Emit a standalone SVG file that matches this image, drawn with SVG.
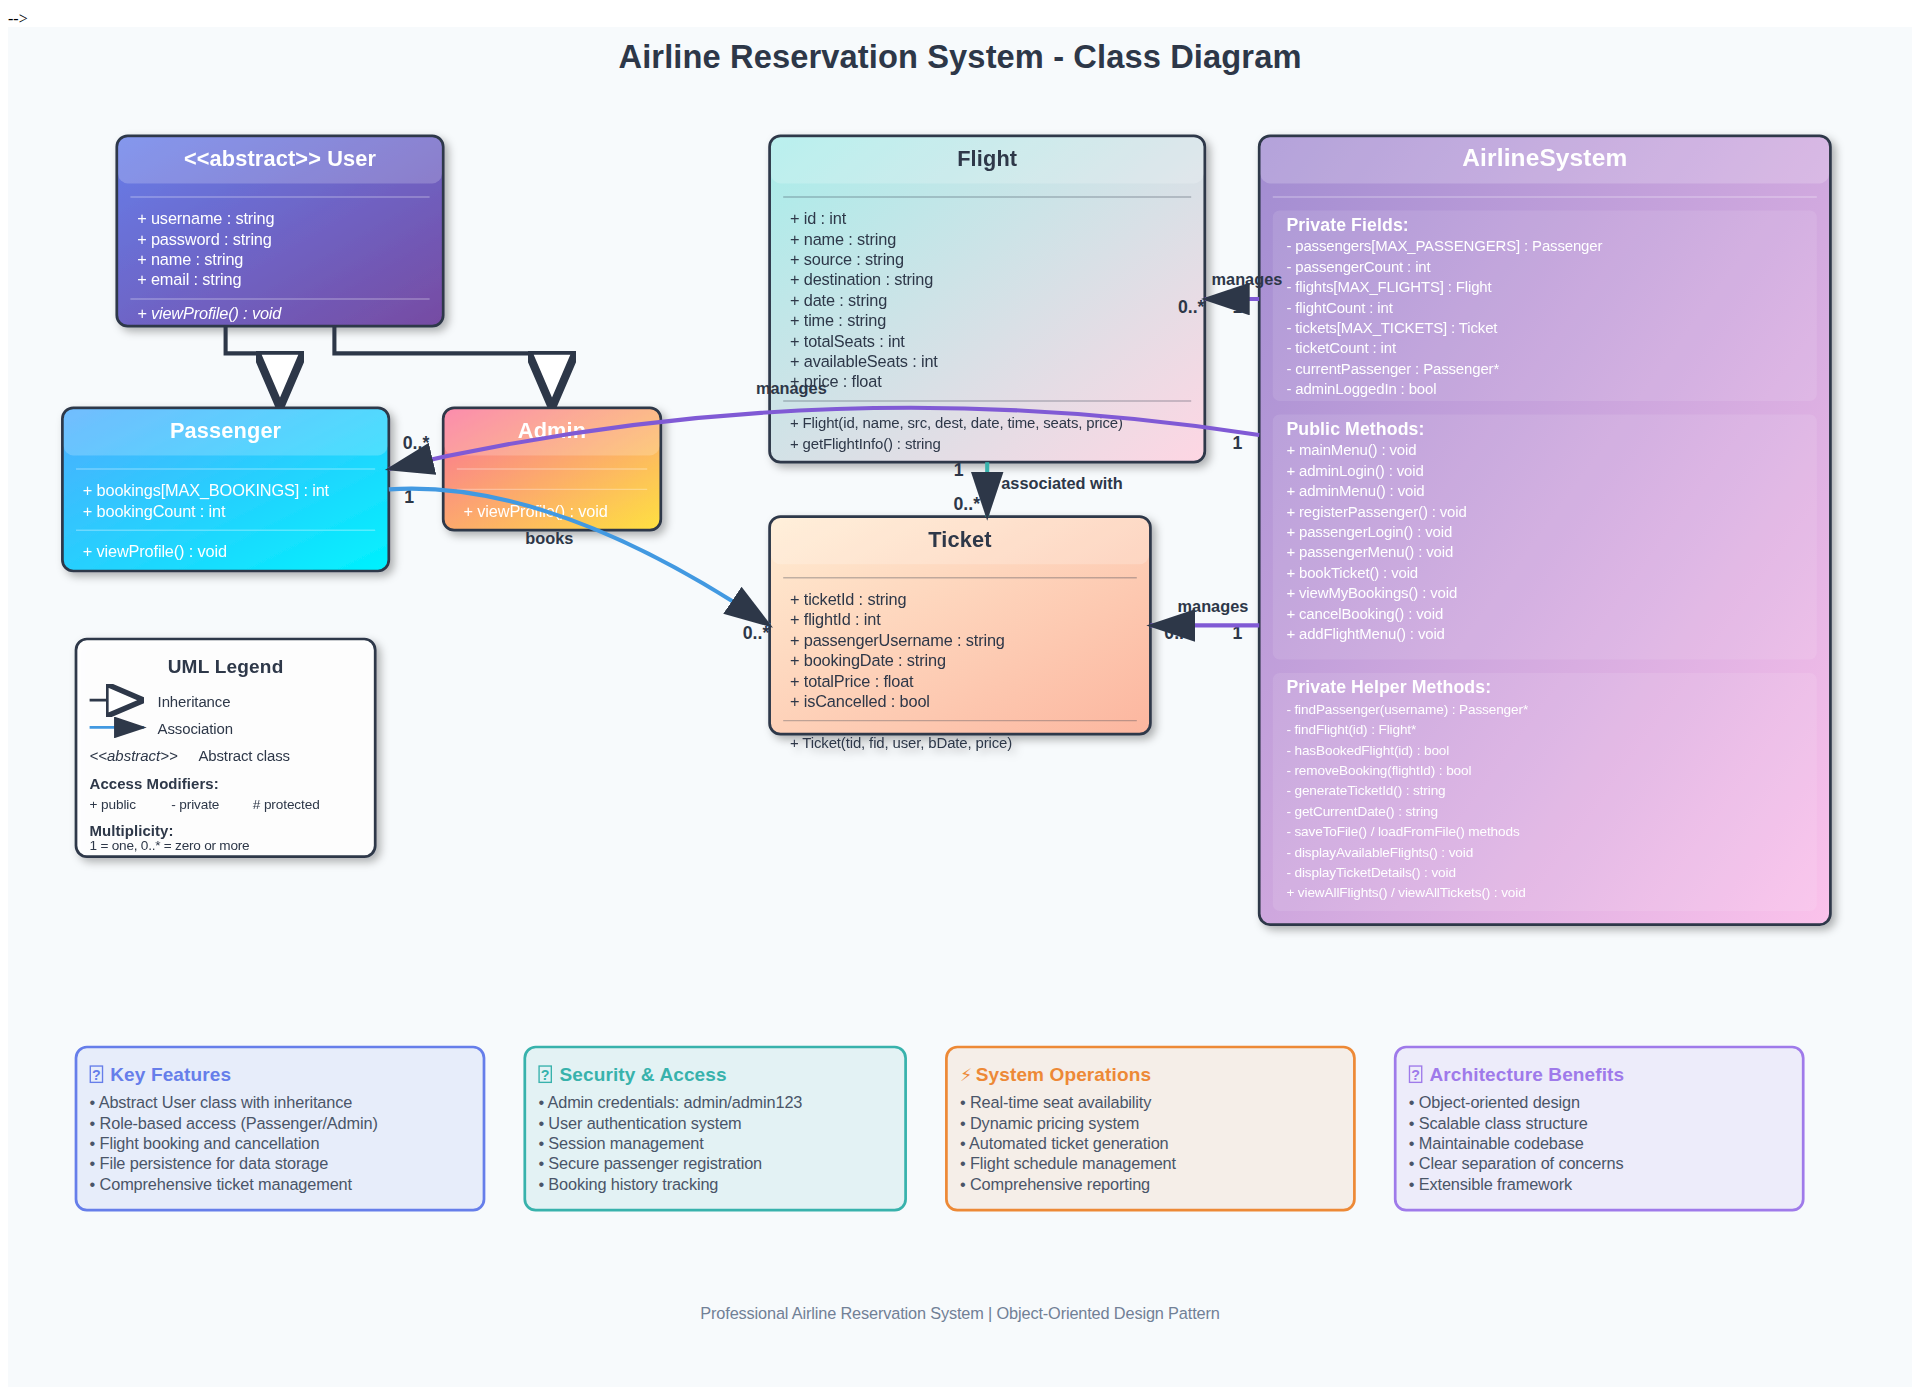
<svg xmlns="http://www.w3.org/2000/svg" width="1920" height="1395" viewBox="0 0 1920 1395">
<style>
text{font-family:"Liberation Sans",Arial,sans-serif}
.box{stroke:#2d3748;stroke-width:2}
.hdr{fill:#fff;fill-opacity:.2}
.ttl{font-size:16px;font-weight:bold;text-anchor:middle;fill:#fff;letter-spacing:.1px}
.ttd{fill:#2d3748}
.t{font-size:12px;fill:#fff;letter-spacing:-.11px}
.d{fill:#2d3748}
.s11{font-size:11px;letter-spacing:-.1px}
.s10{font-size:10px;letter-spacing:-.09px}
.dl{stroke:#fff;stroke-opacity:.3;stroke-width:1}
.dd{stroke:#2d3748;stroke-opacity:.3;stroke-width:1}
.sec{fill:#fff;fill-opacity:.1}
.st{font-size:13px;font-weight:bold;fill:#fff;letter-spacing:.08px}
.rel{font-size:12px;font-weight:bold;fill:#2d3748;text-anchor:middle}
.mul{font-size:13px;font-weight:bold;fill:#2d3748;text-anchor:middle}
.conn{fill:none;stroke-width:3}
.inh{stroke:#2d3748;marker-end:url(#inherit)}
.asc{marker-end:url(#assoc)}
.lg{font-size:11px;fill:#2d3748;letter-spacing:-.08px}
.lgb{font-size:11px;font-weight:bold;fill:#2d3748;letter-spacing:.05px}
.lgs{font-size:10px;fill:#2d3748;letter-spacing:-.08px}
.pt{font-size:14px;font-weight:bold;letter-spacing:.08px}
.pr{font-size:12px;fill:#4a5568;letter-spacing:-.1px}
.tofu{fill:none;stroke-width:1}
.q{font-size:10.5px;font-weight:bold;text-anchor:middle}
</style>
<defs>
<linearGradient id="gUser" x1="0" y1="0" x2="1" y2="1"><stop offset="0" stop-color="#667eea"/><stop offset="1" stop-color="#764ba2"/></linearGradient>
<linearGradient id="gPass" x1="0" y1="0" x2="1" y2="1"><stop offset="0" stop-color="#4facfe"/><stop offset="1" stop-color="#00f2fe"/></linearGradient>
<linearGradient id="gAdmin" x1="0" y1="0" x2="1" y2="1"><stop offset="0" stop-color="#fa709a"/><stop offset="1" stop-color="#fee140"/></linearGradient>
<linearGradient id="gFlight" x1="0" y1="0" x2="1" y2="1"><stop offset="0" stop-color="#a8edea"/><stop offset="1" stop-color="#fed6e3"/></linearGradient>
<linearGradient id="gTicket" x1="0" y1="0" x2="1" y2="1"><stop offset="0" stop-color="#ffecd2"/><stop offset="1" stop-color="#fcb69f"/></linearGradient>
<linearGradient id="gSys" x1="0" y1="0" x2="1" y2="1"><stop offset="0" stop-color="#a18cd1"/><stop offset="1" stop-color="#fbc2eb"/></linearGradient>
<filter id="shadow" x="-10%" y="-10%" width="125%" height="125%"><feDropShadow dx="3" dy="3" stdDeviation="3" flood-color="#000" flood-opacity=".3"/></filter>
<marker id="inherit" markerWidth="14" markerHeight="12" refX="14" refY="6" orient="auto"><polygon points="0,0 14,6 0,12" fill="#fff" stroke="#2d3748" stroke-width="2"/></marker>
<marker id="assoc" markerWidth="12" markerHeight="8" refX="11" refY="4" orient="auto"><polygon points="0,0 12,4 0,8" fill="#2d3748"/></marker>
</defs>
<text x="8" y="24" style="font-family:'Liberation Serif',serif;font-size:16px" fill="#000">--&gt;</text>
<g transform="translate(8,27) scale(1.36)">
<rect width="1400" height="1000" fill="#f7fafc"/>
<text x="700" y="30" text-anchor="middle" font-size="24" font-weight="bold" fill="#2d3748" letter-spacing=".086">Airline Reservation System - Class Diagram</text>

<g id="node-user" filter="url(#shadow)">
<rect class="box" x="80" y="80" width="240" height="140" rx="8" fill="url(#gUser)"/>
<rect class="hdr" x="81" y="81" width="238" height="34" rx="7"/>
<text class="ttl" x="200" y="102">&lt;&lt;abstract&gt;&gt; User</text>
<line class="dl" x1="90" y1="125" x2="310" y2="125"/>
<text class="t" x="95" y="145">+ username : string</text>
<text class="t" x="95" y="160">+ password : string</text>
<text class="t" x="95" y="175">+ name : string</text>
<text class="t" x="95" y="190">+ email : string</text>
<line class="dl" x1="90" y1="200" x2="310" y2="200"/>
<text class="t" x="95" y="215" font-style="italic">+ viewProfile() : void</text>
</g>

<g id="node-passenger" filter="url(#shadow)">
<rect class="box" x="40" y="280" width="240" height="120" rx="8" fill="url(#gPass)"/>
<rect class="hdr" x="41" y="281" width="238" height="34" rx="7"/>
<text class="ttl" x="160" y="302">Passenger</text>
<line class="dl" x1="50" y1="325" x2="270" y2="325"/>
<text class="t" x="55" y="345">+ bookings[MAX_BOOKINGS] : int</text>
<text class="t" x="55" y="360">+ bookingCount : int</text>
<line class="dl" x1="50" y1="370" x2="270" y2="370"/>
<text class="t" x="55" y="390">+ viewProfile() : void</text>
</g>

<g id="node-admin" filter="url(#shadow)">
<rect class="box" x="320" y="280" width="160" height="90" rx="8" fill="url(#gAdmin)"/>
<rect class="hdr" x="321" y="281" width="158" height="34" rx="7"/>
<text class="ttl" x="400" y="302">Admin</text>
<line class="dl" x1="330" y1="325" x2="470" y2="325"/>
<line class="dl" x1="330" y1="340" x2="470" y2="340"/>
<text class="t" x="335" y="360">+ viewProfile() : void</text>
</g>

<g id="node-flight" filter="url(#shadow)">
<rect class="box" x="560" y="80" width="320" height="240" rx="8" fill="url(#gFlight)"/>
<rect class="hdr" x="561" y="81" width="318" height="34" rx="7"/>
<text class="ttl ttd" x="720" y="102">Flight</text>
<line class="dd" x1="570" y1="125" x2="870" y2="125"/>
<text class="t d" x="575" y="145">+ id : int</text>
<text class="t d" x="575" y="160">+ name : string</text>
<text class="t d" x="575" y="175">+ source : string</text>
<text class="t d" x="575" y="190">+ destination : string</text>
<text class="t d" x="575" y="205">+ date : string</text>
<text class="t d" x="575" y="220">+ time : string</text>
<text class="t d" x="575" y="235">+ totalSeats : int</text>
<text class="t d" x="575" y="250">+ availableSeats : int</text>
<text class="t d" x="575" y="265">+ price : float</text>
<line class="dd" x1="570" y1="275" x2="870" y2="275"/>
<text class="t d s11" x="575" y="295">+ Flight(id, name, src, dest, date, time, seats, price)</text>
<text class="t d s11" x="575" y="310">+ getFlightInfo() : string</text>
</g>

<g id="node-ticket" filter="url(#shadow)">
<rect class="box" x="560" y="360" width="280" height="160" rx="8" fill="url(#gTicket)"/>
<rect class="hdr" x="561" y="361" width="278" height="34" rx="7"/>
<text class="ttl ttd" x="700" y="382">Ticket</text>
<line class="dd" x1="570" y1="405" x2="830" y2="405"/>
<text class="t d" x="575" y="425">+ ticketId : string</text>
<text class="t d" x="575" y="440">+ flightId : int</text>
<text class="t d" x="575" y="455">+ passengerUsername : string</text>
<text class="t d" x="575" y="470">+ bookingDate : string</text>
<text class="t d" x="575" y="485">+ totalPrice : float</text>
<text class="t d" x="575" y="500">+ isCancelled : bool</text>
<line class="dd" x1="570" y1="510" x2="830" y2="510"/>
<text class="t d s11" x="575" y="530">+ Ticket(tid, fid, user, bDate, price)</text>
</g>

<g id="node-airlinesystem" filter="url(#shadow)">
<rect class="box" x="920" y="80" width="420" height="580" rx="8" fill="url(#gSys)"/>
<rect class="hdr" x="921" y="81" width="418" height="34" rx="7"/>
<text class="ttl" x="1130" y="102" style="font-size:18px">AirlineSystem</text>
<line class="dl" x1="930" y1="125" x2="1330" y2="125"/>
<rect class="sec" x="930" y="135" width="400" height="140" rx="5"/>
<text class="st" x="940" y="150">Private Fields:</text>
<text class="t s11" x="940" y="165">- passengers[MAX_PASSENGERS] : Passenger</text>
<text class="t s11" x="940" y="180">- passengerCount : int</text>
<text class="t s11" x="940" y="195">- flights[MAX_FLIGHTS] : Flight</text>
<text class="t s11" x="940" y="210">- flightCount : int</text>
<text class="t s11" x="940" y="225">- tickets[MAX_TICKETS] : Ticket</text>
<text class="t s11" x="940" y="240">- ticketCount : int</text>
<text class="t s11" x="940" y="255">- currentPassenger : Passenger*</text>
<text class="t s11" x="940" y="270">- adminLoggedIn : bool</text>
<rect class="sec" x="930" y="285" width="400" height="180" rx="5"/>
<text class="st" x="940" y="300">Public Methods:</text>
<text class="t s11" x="940" y="315">+ mainMenu() : void</text>
<text class="t s11" x="940" y="330">+ adminLogin() : void</text>
<text class="t s11" x="940" y="345">+ adminMenu() : void</text>
<text class="t s11" x="940" y="360">+ registerPassenger() : void</text>
<text class="t s11" x="940" y="375">+ passengerLogin() : void</text>
<text class="t s11" x="940" y="390">+ passengerMenu() : void</text>
<text class="t s11" x="940" y="405">+ bookTicket() : void</text>
<text class="t s11" x="940" y="420">+ viewMyBookings() : void</text>
<text class="t s11" x="940" y="435">+ cancelBooking() : void</text>
<text class="t s11" x="940" y="450">+ addFlightMenu() : void</text>
<rect class="sec" x="930" y="475" width="400" height="175" rx="5"/>
<text class="st" x="940" y="490">Private Helper Methods:</text>
<text class="t s10" x="940" y="505">- findPassenger(username) : Passenger*</text>
<text class="t s10" x="940" y="520">- findFlight(id) : Flight*</text>
<text class="t s10" x="940" y="535">- hasBookedFlight(id) : bool</text>
<text class="t s10" x="940" y="550">- removeBooking(flightId) : bool</text>
<text class="t s10" x="940" y="565">- generateTicketId() : string</text>
<text class="t s10" x="940" y="580">- getCurrentDate() : string</text>
<text class="t s10" x="940" y="595">- saveToFile() / loadFromFile() methods</text>
<text class="t s10" x="940" y="610">- displayAvailableFlights() : void</text>
<text class="t s10" x="940" y="625">- displayTicketDetails() : void</text>
<text class="t s10" x="940" y="640">+ viewAllFlights() / viewAllTickets() : void</text>
</g>

<g id="multiplicities">
<text class="mul" x="870" y="210">0..*</text>
<text class="mul" x="904" y="210">1</text>
<text class="mul" x="860" y="450">0..*</text>
<text class="mul" x="904" y="450">1</text>
<text class="mul" x="300" y="310">0..*</text>
<text class="mul" x="904" y="310">1</text>
<text class="mul" x="295" y="350">1</text>
<text class="mul" x="550" y="450">0..*</text>
<text class="mul" x="699" y="330">1</text>
<text class="mul" x="705" y="355">0..*</text>
</g>

<g id="connectors">
<path class="conn inh" d="M160,220 L160,240 L200,240 L200,280"/>
<path class="conn inh" d="M240,220 L240,240 L400,240 L400,280"/>
<path class="conn asc" stroke="#805ad5" d="M920,200 L880,200"/>
<path class="conn asc" stroke="#805ad5" d="M920,440 L840,440"/>
<path class="conn asc" stroke="#805ad5" d="M920,300 Q600,250 280,325"/>
<path class="conn asc" stroke="#4299e1" d="M280,340 Q400,332 560,440"/>
<path class="conn asc" stroke="#38b2ac" d="M720,320 L720,360"/>
</g>

<g id="connector-labels">
<text class="rel" x="911" y="190">manages</text>
<text class="rel" x="886" y="430">manages</text>
<text class="rel" x="576" y="270">manages</text>
<text class="rel" x="398" y="380">books</text>
<text class="rel" x="775" y="340">associated with</text>
</g>

<g id="legend" filter="url(#shadow)">
<rect class="box" x="50" y="450" width="220" height="160" rx="8" fill="#fff" fill-opacity=".95"/>
<text x="160" y="475" text-anchor="middle" font-size="14" font-weight="bold" fill="#2d3748" letter-spacing=".15">UML Legend</text>
<line x1="60" y1="495" x2="100" y2="495" stroke="#2d3748" stroke-width="2" marker-end="url(#inherit)"/>
<text class="lg" x="110" y="500">Inheritance</text>
<line x1="60" y1="515" x2="100" y2="515" stroke="#4299e1" stroke-width="2" marker-end="url(#assoc)"/>
<text class="lg" x="110" y="520">Association</text>
<text class="lg" x="60" y="540" font-style="italic" style="letter-spacing:0">&lt;&lt;abstract&gt;&gt;</text>
<text class="lg" x="140" y="540">Abstract class</text>
<text class="lgb" x="60" y="560">Access Modifiers:</text>
<text class="lgs" x="60" y="575">+ public</text>
<text class="lgs" x="120" y="575">- private</text>
<text class="lgs" x="180" y="575"># protected</text>
<text class="lgb" x="60" y="595">Multiplicity:</text>
<text class="lgs" x="60" y="605" style="letter-spacing:-.17px">1 = one, 0..* = zero or more</text>
</g>

<g id="panel-features">
<rect x="50" y="750" width="300" height="120" rx="8" fill="#667eea" fill-opacity=".1" stroke="#667eea" stroke-width="2"/>
<rect class="tofu" x="60.5" y="764" width="9" height="12" stroke="#667eea"/>
<text class="q" x="65" y="774" fill="#667eea">?</text>
<text class="pt" x="75.2" y="775" fill="#667eea">Key Features</text>
<text class="pr" x="60" y="795">• Abstract User class with inheritance</text>
<text class="pr" x="60" y="810">• Role-based access (Passenger/Admin)</text>
<text class="pr" x="60" y="825">• Flight booking and cancellation</text>
<text class="pr" x="60" y="840">• File persistence for data storage</text>
<text class="pr" x="60" y="855">• Comprehensive ticket management</text>
</g>
<g id="panel-security">
<rect x="380" y="750" width="280" height="120" rx="8" fill="#38b2ac" fill-opacity=".1" stroke="#38b2ac" stroke-width="2"/>
<rect class="tofu" x="390.5" y="764" width="9" height="12" stroke="#38b2ac"/>
<text class="q" x="395" y="774" fill="#38b2ac">?</text>
<text class="pt" x="405.5" y="775" fill="#38b2ac">Security &amp; Access</text>
<text class="pr" x="390" y="795">• Admin credentials: admin/admin123</text>
<text class="pr" x="390" y="810">• User authentication system</text>
<text class="pr" x="390" y="825">• Session management</text>
<text class="pr" x="390" y="840">• Secure passenger registration</text>
<text class="pr" x="390" y="855">• Booking history tracking</text>
</g>
<g id="panel-operations">
<rect x="690" y="750" width="300" height="120" rx="8" fill="#ed8936" fill-opacity=".1" stroke="#ed8936" stroke-width="2"/>
<text x="700" y="775" font-size="13" fill="#ed8936" style="font-family:'DejaVu Sans',sans-serif">⚡&#xFE0E;</text>
<text class="pt" x="711.6" y="775" fill="#ed8936">System Operations</text>
<text class="pr" x="700" y="795">• Real-time seat availability</text>
<text class="pr" x="700" y="810">• Dynamic pricing system</text>
<text class="pr" x="700" y="825">• Automated ticket generation</text>
<text class="pr" x="700" y="840">• Flight schedule management</text>
<text class="pr" x="700" y="855">• Comprehensive reporting</text>
</g>
<g id="panel-architecture">
<rect x="1020" y="750" width="300" height="120" rx="8" fill="#9f7aea" fill-opacity=".1" stroke="#9f7aea" stroke-width="2"/>
<rect class="tofu" x="1030.5" y="764" width="9" height="12" stroke="#9f7aea"/>
<text class="q" x="1035" y="774" fill="#9f7aea">?</text>
<text class="pt" x="1045.2" y="775" fill="#9f7aea">Architecture Benefits</text>
<text class="pr" x="1030" y="795">• Object-oriented design</text>
<text class="pr" x="1030" y="810">• Scalable class structure</text>
<text class="pr" x="1030" y="825">• Maintainable codebase</text>
<text class="pr" x="1030" y="840">• Clear separation of concerns</text>
<text class="pr" x="1030" y="855">• Extensible framework</text>
</g>
<text x="700" y="950" text-anchor="middle" font-size="12" fill="#718096" letter-spacing="-.11">Professional Airline Reservation System | Object-Oriented Design Pattern</text>
</g>
</svg>
